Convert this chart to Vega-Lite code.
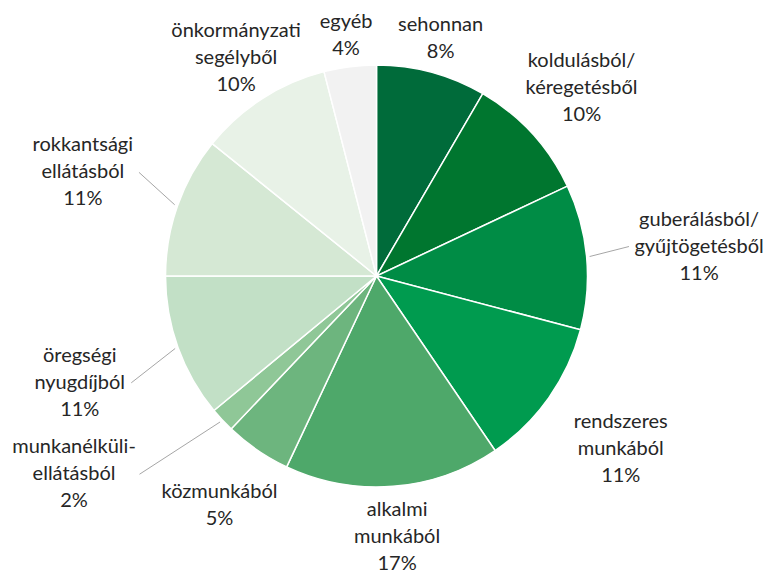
{
  "$schema": "https://vega.github.io/schema/vega-lite/v6.json",
  "width": 753,
  "height": 552,
  "autosize": "none",
  "padding": {"left": 0, "top": 0, "right": 11, "bottom": 24},
  "background": "white",
  "view": {"stroke": null},
  "data": {
    "values": [
      {"idx": 1, "cat": "sehonnan", "label": ["sehonnan", "8%"], "v": 8.4},
      {"idx": 2, "cat": "koldulásból/kéregetésből", "label": ["koldulásból/", "kéregetésből", "10%"], "v": 9.6},
      {"idx": 3, "cat": "guberálásból/gyűjtögetésből", "label": ["guberálásból/", "gyűjtögetésből", "11%"], "v": 11.1},
      {"idx": 4, "cat": "rendszeres munkából", "label": ["rendszeres", "munkából", "11%"], "v": 11.4},
      {"idx": 5, "cat": "alkalmi munkából", "label": ["alkalmi", "munkából", "17%"], "v": 16.5},
      {"idx": 6, "cat": "közmunkából", "label": ["közmunkából", "5%"], "v": 5.1},
      {"idx": 7, "cat": "munkanélküli-ellátásból", "label": ["munkanélküli-", "ellátásból", "2%"], "v": 1.9},
      {"idx": 8, "cat": "öregségi nyugdíjból", "label": ["öregségi", "nyugdíjból", "11%"], "v": 11.0},
      {"idx": 9, "cat": "rokkantsági ellátásból", "label": ["rokkantsági", "ellátásból", "11%"], "v": 10.8},
      {"idx": 10, "cat": "önkormányzati segélyből", "label": ["önkormányzati", "segélyből", "10%"], "v": 10.2},
      {"idx": 11, "cat": "egyéb", "label": ["egyéb", "4%"], "v": 4.0}
    ]
  },
  "transform": [
    {"window": [{"op": "sum", "field": "v", "as": "cum"}], "sort": [{"field": "idx"}], "frame": [null, 0]},
    {"joinaggregate": [{"op": "sum", "field": "v", "as": "tot"}]},
    {"calculate": "(datum.cum - datum.v / 2) / datum.tot * 2 * PI", "as": "ang"},
    {"calculate": "sin(datum.ang) < 0 ? -1 : 1", "as": "side"},
    {"calculate": "1 / sqrt(pow(sin(datum.ang) / 325, 2) + pow(cos(datum.ang) / (cos(datum.ang) > 0 ? 242 : 262), 2))", "as": "er"},
    {"calculate": "sin(datum.ang) * datum.er + (datum.v < 3 ? datum.side * 90 : 0)", "as": "lx"},
    {"calculate": "cos(datum.ang) * datum.er", "as": "ly"},
    {"calculate": "max(length(datum.label[0]), length(datum.label[1]), length(datum.label) > 2 ? length(datum.label[2]) : 0) * 9.3", "as": "tw"},
    {"calculate": "sin(datum.ang) * 214", "as": "ex"},
    {"calculate": "cos(datum.ang) * 214", "as": "ey"},
    {"calculate": "datum.lx - datum.side * (datum.tw / 2 + 5)", "as": "tx"},
    {"calculate": "datum.ly", "as": "ty"}
  ],
  "encoding": {
    "x": {"type": "quantitative", "axis": null, "scale": {"domain": [-376.5, 376.5], "nice": false, "zero": false}},
    "y": {"type": "quantitative", "axis": null, "scale": {"domain": [-276, 276], "nice": false, "zero": false}}
  },
  "layer": [
    {
      "mark": {"type": "arc", "outerRadius": 211, "stroke": "white", "strokeWidth": 1.5},
      "encoding": {
        "x": null,
        "y": null,
        "theta": {"field": "v", "type": "quantitative", "stack": true},
        "order": {"field": "idx", "type": "quantitative"},
        "color": {
          "field": "cat",
          "type": "nominal",
          "legend": null,
          "scale": {
            "domain": ["sehonnan", "koldulásból/kéregetésből", "guberálásból/gyűjtögetésből", "rendszeres munkából", "alkalmi munkából", "közmunkából", "munkanélküli-ellátásból", "öregségi nyugdíjból", "rokkantsági ellátásból", "önkormányzati segélyből", "egyéb"],
            "range": ["#006b3a", "#00762f", "#008c45", "#009b4f", "#4ea86a", "#6db57e", "#8fc797", "#c2e0c6", "#d5e8d4", "#e8f2e7", "#f2f2f2"]
          }
        }
      }
    },
    {
      "transform": [{"filter": "abs(sin(datum.ang)) > 0.9 || datum.v < 3"}],
      "mark": {"type": "rule", "color": "#a6a6a6", "strokeWidth": 1},
      "encoding": {
        "x": {"field": "ex", "type": "quantitative", "axis": null, "scale": {"domain": [-376.5, 376.5], "nice": false, "zero": false}},
        "y": {"field": "ey", "type": "quantitative", "axis": null, "scale": {"domain": [-276, 276], "nice": false, "zero": false}},
        "x2": {"field": "tx"},
        "y2": {"field": "ty"}
      }
    },
    {
      "mark": {"type": "text", "font": "Lato", "fontSize": 20, "lineHeight": 27, "color": "#262626", "align": "center", "baseline": "middle", "dy": {"expr": "-(length(datum.label) - 1) * 13.5"}},
      "encoding": {
        "x": {"field": "lx", "type": "quantitative", "axis": null, "scale": {"domain": [-376.5, 376.5], "nice": false, "zero": false}},
        "y": {"field": "ly", "type": "quantitative", "axis": null, "scale": {"domain": [-276, 276], "nice": false, "zero": false}},
        "text": {"field": "label"}
      }
    }
  ]
}
